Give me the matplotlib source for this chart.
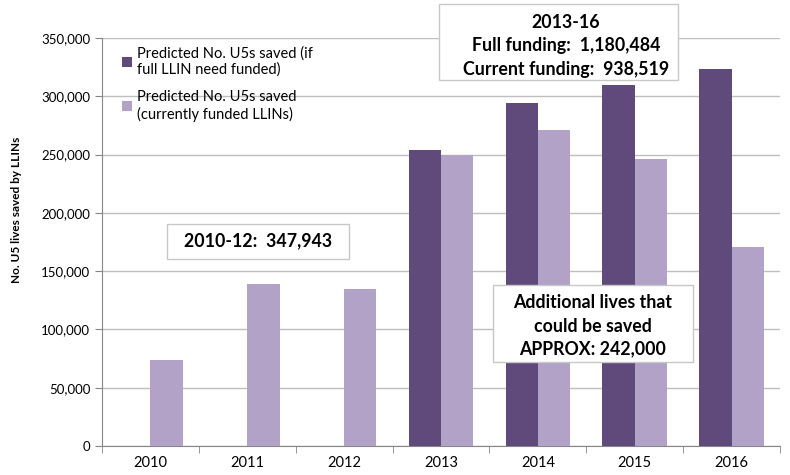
import numpy as np
import matplotlib.pyplot as plt
from matplotlib.patches import Rectangle
from matplotlib.ticker import FuncFormatter

plt.rcParams['font.family'] = ['Lato', 'DejaVu Sans']

years = ["2010", "2011", "2012", "2013", "2014", "2015", "2016"]
full_funding = [0, 0, 0, 253500, 294000, 310000, 323000]
current_funding = [74000, 139000, 135000, 250000, 271500, 246000, 171000]
full_label = "Predicted No. U5s saved (if\nfull LLIN need funded)"
current_label = "Predicted No. U5s saved\n(currently funded LLINs)"

dark = "#5f4a7b"
light = "#b2a2c8"
grid_c = "#bfbfbf"
axis_c = "#868686"
W, H = 790, 475

fig = plt.figure(figsize=(7.9, 4.75), dpi=100)
ax = fig.add_axes([102 / W, 1 - 446 / H, 678 / W, 408 / H])

x = np.arange(len(years))
w = 1 / 3
ax.bar(x - w / 2, full_funding, w, color=dark, label=full_label, zorder=3)
ax.bar(x + w / 2, current_funding, w, color=light, label=current_label, zorder=3)

ax.set_xlim(-0.5, len(years) - 0.5)
ax.set_ylim(0, 350000)
ax.set_yticks(np.arange(0, 350001, 50000))
ax.yaxis.set_major_formatter(FuncFormatter(lambda v, p: f"{int(v):,}"))
ax.grid(axis="y", color=grid_c, linewidth=1, zorder=0)
ax.set_xticks(x)
ax.set_xticklabels(years)
ax.set_xticks(np.arange(-0.5, len(years)), minor=True)
ax.tick_params(axis="x", which="major", length=0, pad=7, labelsize=10.5)
ax.tick_params(axis="x", which="minor", length=5, color=axis_c)
ax.tick_params(axis="y", length=5, color=axis_c, labelsize=9.5)
for s in ["top", "right"]:
    ax.spines[s].set_visible(False)
for s in ["left", "bottom"]:
    ax.spines[s].set_color(axis_c)

ax.set_ylabel("No. U5 lives saved by LLINs", fontsize=8.5, fontweight="bold")
ax.yaxis.set_label_coords(-0.118, 0.578)

ax.legend(loc="upper left", bbox_to_anchor=(20 / 678, 1 - 8 / 408), frameon=False,
          fontsize=10.5, handlelength=0.7, handleheight=0.7, borderpad=0,
          borderaxespad=0, handletextpad=0.35, labelspacing=0.9)


def note_box(x0, y0, x1, y1):
    fig.patches.append(Rectangle((x0 / W, 1 - y1 / H), (x1 - x0) / W, (y1 - y0) / H,
                                 transform=fig.transFigure, facecolor="white",
                                 edgecolor="#c8c8c8", linewidth=1, zorder=5))


def note_lines(cx, ys, lines):
    for yy, t in zip(ys, lines):
        fig.text(cx / W, 1 - yy / H, t, fontsize=12.8, fontweight="bold",
                 ha="center", va="center", zorder=6)


note_box(167, 224, 349, 259)
note_lines(258, [241], ["2010-12:  347,943"])

note_box(439, 4, 678, 80)
note_lines(566, [22, 46, 69], ["2013-16", "Full funding:  1,180,484", "Current funding:  938,519"])

note_box(493, 285, 693, 362)
note_lines(593, [303, 326, 349], ["Additional lives that", "could be saved", "APPROX: 242,000"])

plt.savefig("out.png", dpi=100)
